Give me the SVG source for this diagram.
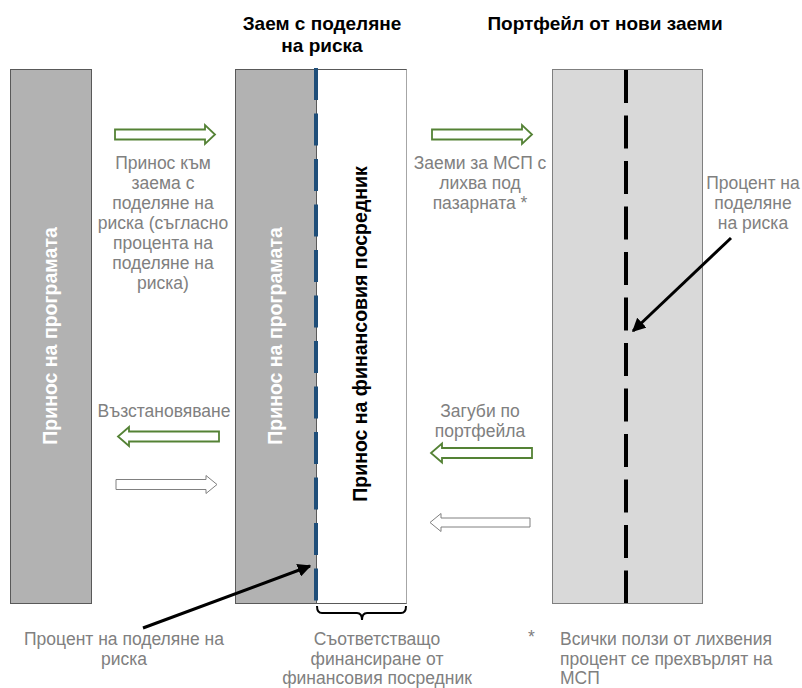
<svg xmlns="http://www.w3.org/2000/svg" width="802" height="688" viewBox="0 0 802 688">
<defs>
<style>
.title{font-family:"Liberation Sans",Arial,sans-serif;font-size:19px;font-weight:bold;fill:#000;text-anchor:middle}
.lbl{font-family:"Liberation Sans",Arial,sans-serif;font-size:17.5px;fill:#808080;text-anchor:middle}
.lbll{font-family:"Liberation Sans",Arial,sans-serif;font-size:17.5px;fill:#808080}
.vw{font-family:"Liberation Sans",Arial,sans-serif;font-size:19.5px;font-weight:bold;fill:#fff;text-anchor:middle}
.vb{font-family:"Liberation Sans",Arial,sans-serif;font-size:19.5px;font-weight:bold;fill:#000;text-anchor:middle}
.garrow{fill:#fff;stroke:#548235;stroke-width:1.8}
.warrow{fill:#fff;stroke:#808080;stroke-width:1}
.ptr{stroke:#000;stroke-width:3;fill:none}
</style>
<marker id="ah" viewBox="0 0 10 10" refX="9" refY="5" markerWidth="4.5" markerHeight="4.5" orient="auto" markerUnits="strokeWidth">
<path d="M0,0 L10,5 L0,10 Z" fill="#000"/>
</marker>
</defs>
<rect width="802" height="688" fill="#fff"/>

<g id="title-left">
<text class="title" x="322" y="30">Заем с поделяне</text>
<text class="title" x="322" y="52">на риска</text>
</g>
<g id="title-right">
<text class="title" x="605" y="30">Портфейл от нови заеми</text>
</g>

<g id="program-box">
<rect x="10.5" y="69.5" width="81" height="534" fill="#b2b2b2" stroke="#595959" stroke-width="1"/>
<text class="vw" transform="translate(57,336) rotate(-90)">Принос на програмата</text>
</g>

<g id="rsl-box">
<rect x="235.5" y="69.5" width="171" height="534" fill="#fff" stroke="#595959" stroke-width="1"/>
<rect x="235.5" y="69.5" width="81" height="534" fill="#b2b2b2" stroke="#595959" stroke-width="1"/>
<line x1="406.5" y1="69.5" x2="406.5" y2="603.5" stroke="#a6a6a6" stroke-width="1"/>
<line x1="316" y1="68" x2="316" y2="603" stroke="#1f4e79" stroke-width="4" stroke-dasharray="32 13.5"/>
<text class="vw" transform="translate(282,336) rotate(-90)">Принос на програмата</text>
<text class="vb" transform="translate(367,334) rotate(-90)">Принос на финансовия посредник</text>
</g>

<g id="portfolio-box">
<rect x="552.5" y="69.5" width="150" height="534" fill="#d9d9d9" stroke="#7f7f7f" stroke-width="1"/>
<line x1="626" y1="70" x2="626" y2="603" stroke="#000" stroke-width="4" stroke-dasharray="33 12.5"/>
</g>

<g id="connectors">
<polygon class="garrow" points="115,129.5 205,129.5 205,125 215,134.5 205,144 205,139.5 115,139.5"/>
<polygon class="garrow" points="432,129.5 522,129.5 522,125 532,134.5 522,144 522,139.5 432,139.5"/>
<polygon class="garrow" points="219,431.5 129,431.5 129,427 118,436.5 129,446 129,441.5 219,441.5"/>
<polygon class="warrow" points="116,479.5 206,479.5 206,475.5 217,484.5 206,493.5 206,489.5 116,489.5"/>
<polygon class="garrow" points="532,448 442,448 442,443.5 431,453 442,462.5 442,458 532,458"/>
<polygon class="warrow" points="530,518 441,518 441,513.5 430,522.5 441,531.5 441,527 530,527"/>
<line class="ptr" x1="143" y1="628" x2="310" y2="566" marker-end="url(#ah)"/>
<line class="ptr" x1="731" y1="238" x2="633" y2="331" marker-end="url(#ah)"/>
<path d="M317,606 Q317,613 322,613 L357,613 Q362,613 362,620 Q362,613 367,613 L401,613 Q406,613 406,606" fill="none" stroke="#000" stroke-width="2"/>
</g>

<g id="label-contribution">
<text class="lbl" x="163" y="169">Принос към</text>
<text class="lbl" x="163" y="189">заема с</text>
<text class="lbl" x="163" y="209">поделяне на</text>
<text class="lbl" x="163" y="229">риска (съгласно</text>
<text class="lbl" x="163" y="249">процента на</text>
<text class="lbl" x="163" y="269">поделяне на</text>
<text class="lbl" x="163" y="289">риска)</text>
</g>
<g id="label-sme">
<text class="lbl" x="480" y="169">Заеми за МСП с</text>
<text class="lbl" x="480" y="189">лихва под</text>
<text class="lbl" x="480" y="209">пазарната *</text>
</g>
<g id="label-rate-right">
<text class="lbl" x="753" y="189">Процент на</text>
<text class="lbl" x="753" y="209">поделяне</text>
<text class="lbl" x="753" y="229">на риска</text>
</g>
<g id="label-recovery">
<text class="lbl" x="164" y="417">Възстановяване</text>
</g>
<g id="label-losses">
<text class="lbl" x="480" y="417">Загуби по</text>
<text class="lbl" x="480" y="437">портфейла</text>
</g>
<g id="label-rate-bottom">
<text class="lbl" x="124" y="645">Процент на поделяне на</text>
<text class="lbl" x="124" y="665">риска</text>
</g>
<g id="label-matching">
<text class="lbl" x="377" y="645">Съответстващо</text>
<text class="lbl" x="377" y="665">финансиране от</text>
<text class="lbl" x="377" y="683.5">финансовия посредник</text>
</g>
<g id="label-footnote">
<text class="lbll" x="528" y="643">*</text>
<text class="lbll" x="560" y="645">Всички ползи от лихвения</text>
<text class="lbll" x="560" y="665">процент се прехвърлят на</text>
<text class="lbll" x="560" y="683.5">МСП</text>
</g>
</svg>
